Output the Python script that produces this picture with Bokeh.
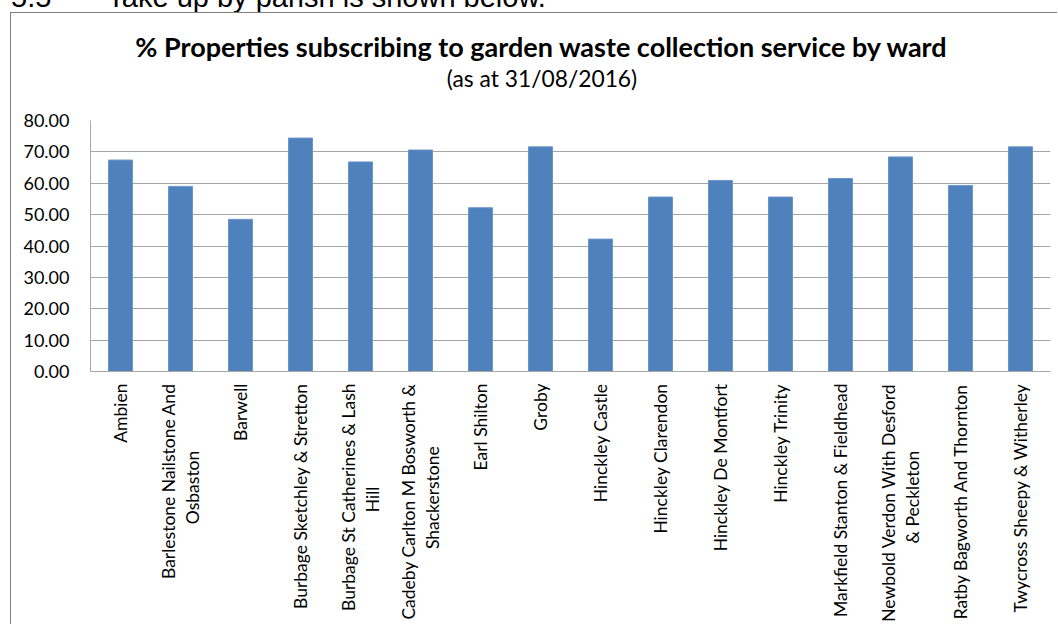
import math
from bokeh.plotting import figure
from bokeh.models import (FactorRange, Range1d, FixedTicker, NumeralTickFormatter,
                          Div, ColumnDataSource)
from bokeh.layouts import column
from bokeh.embed import file_html
from bokeh.resources import INLINE

# ---- data ----
wards = [
    "Ambien",
    "Barlestone Nailstone And\nOsbaston",
    "Barwell",
    "Burbage Sketchley & Stretton",
    "Burbage St Catherines & Lash\nHill",
    "Cadeby Carlton M Bosworth &\nShackerstone",
    "Earl Shilton",
    "Groby",
    "Hinckley Castle",
    "Hinckley Clarendon",
    "Hinckley De Montfort",
    "Hinckley Trinity",
    "Markfield Stanton & Fieldhead",
    "Newbold Verdon With Desford\n& Peckleton",
    "Ratby Bagworth And Thornton",
    "Twycross Sheepy & Witherley",
]
pct = [67.4, 59.0, 48.5, 74.4, 66.8, 70.6, 52.2, 71.6,
       42.2, 55.6, 60.9, 55.6, 61.5, 68.4, 59.3, 71.6]
y_ticks = [0, 10, 20, 30, 40, 50, 60, 70, 80]

title_text = "% Properties subscribing to garden waste collection service by ward"
subtitle_text = "(as at 31/08/2016)"
intro_number = "5.5"
intro_text = "Take up by parish is shown below."

FONT = "Lato"
BAR = "#4F81BD"
GRID = "#A6A6A6"
BORDER = "1px solid #7F7F7F"


def centred_label(name, char_w=8.2, pad_w=4.3):
    """Wrapped labels: centre the short second line under the first
    (rotated text is right-aligned by the axis, so pad with no-break spaces)."""
    lines = name.split("\n")
    if len(lines) < 2:
        return name
    longest = max(len(s) for s in lines)
    out = []
    for s in lines:
        n = int(round((longest - len(s)) * char_w / 2 / pad_w))
        out.append(s + "\u00a0" * n)
    return "\n".join(out)


display = [centred_label(w) for w in wards]
src = ColumnDataSource(data=dict(ward=display, pct=pct))

p = figure(
    x_range=FactorRange(*display),
    y_range=Range1d(0, 80),
    width=1046, height=532,
    output_backend="svg", toolbar_location=None,
    min_border_left=79, min_border_right=7,
    min_border_top=28, min_border_bottom=250,
)
p.x_range.range_padding = 0.0
p.x_range.factor_padding = 0.0

p.vbar(x="ward", top="pct", width=0.4, source=src,
       fill_color=BAR, line_color="#6B96CB", line_width=1)

# y axis
p.yaxis.ticker = FixedTicker(ticks=y_ticks)
p.yaxis.formatter = NumeralTickFormatter(format="0.00")
p.yaxis.major_label_text_font = FONT
p.yaxis.major_label_text_font_size = "18px"
p.yaxis.major_label_text_color = "#000000"
p.yaxis.axis_line_color = GRID
p.yaxis.major_tick_line_color = None
p.yaxis.minor_tick_line_color = None
p.yaxis.major_tick_out = 0
p.yaxis.major_tick_in = 0
p.yaxis.major_label_standoff = 21

# x axis
p.xaxis.axis_line_color = GRID
p.xaxis.major_tick_line_color = None
p.xaxis.minor_tick_line_color = None
p.xaxis.major_tick_out = 0
p.xaxis.major_tick_in = 0
p.xaxis.major_label_orientation = math.pi / 2
p.xaxis.major_label_text_font = FONT
p.xaxis.major_label_text_font_size = "17.5px"
p.xaxis.major_label_text_color = "#000000"
p.xaxis.major_label_text_line_height = 1.15
p.xaxis.major_label_standoff = 12

# grid
p.xgrid.grid_line_color = None
p.ygrid.grid_line_color = GRID
p.ygrid.grid_line_width = 1

p.outline_line_color = None
p.background_fill_color = "white"
p.border_fill_color = "white"

title_div = Div(
    text=title_text, width=1000, height=34, margin=(17, 0, 0, 30),
    styles={"font-family": FONT, "font-size": "27px", "font-weight": "bold",
            "line-height": "34px", "text-align": "center",
            "white-space": "nowrap", "color": "#000000"},
)
subtitle_div = Div(
    text=subtitle_text, width=1000, height=28, margin=(0, 0, 0, 31),
    styles={"font-family": FONT, "font-size": "22.8px",
            "line-height": "28px", "text-align": "center",
            "white-space": "nowrap", "color": "#000000"},
)

chart_box = column(title_div, subtitle_div, p, spacing=0)
chart_box.margin = (0, 0, 0, 10)
chart_box.styles = {"border-left": BORDER, "border-top": BORDER}

intro = Div(
    text=(f'<span>{intro_number}</span>'
          f'<span style="margin-left:56px">{intro_text}</span>'),
    width=1000, height=31, margin=(-19, 0, 0, 11),
    styles={"font-family": "Liberation Sans, Arial, sans-serif",
            "font-size": "29px", "line-height": "32px",
            "white-space": "nowrap", "color": "#000000"},
)

layout = column(intro, chart_box, spacing=0)

open("out.html", "w").write(file_html(layout, INLINE))
